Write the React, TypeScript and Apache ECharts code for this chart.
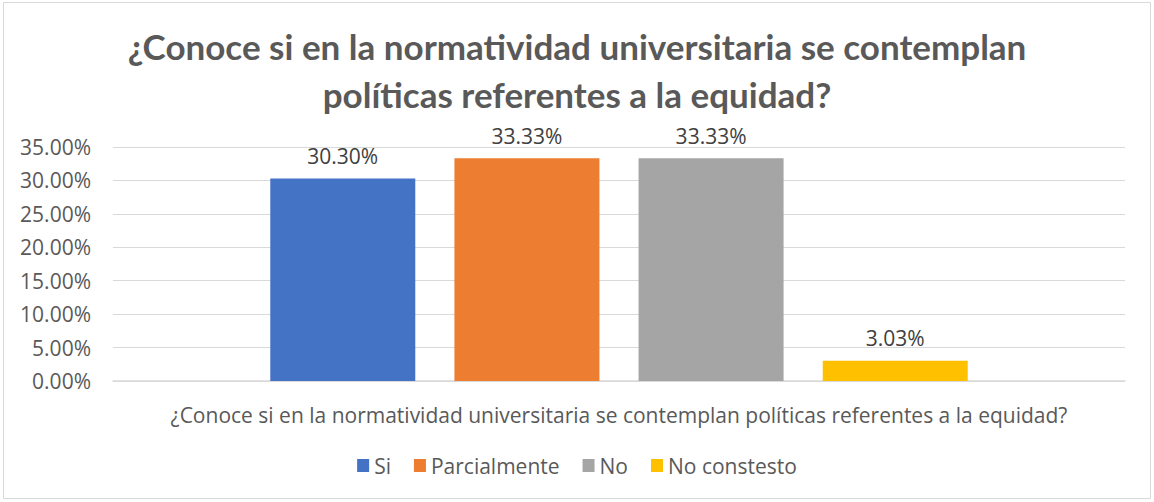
import React, { useEffect, useRef } from "react";
import * as echarts from "echarts";

const question = "¿Conoce si en la normatividad universitaria se contemplan políticas referentes a la equidad?";
const categories = [question];
const seriesNames = ["Si", "Parcialmente", "No", "No constesto"];
const seriesValues = [0.303, 0.3333, 0.3333, 0.0303];
const seriesColors = ["#4472C4", "#ED7D31", "#A5A5A5", "#FFC000"];
const yTicks = { min: 0, max: 0.35, interval: 0.05 };

const FONT = "'Open Sans', sans-serif";

export default function App() {
  const ref = useRef<HTMLDivElement>(null);
  useEffect(() => {
    if (!ref.current) return;
    const chart = echarts.init(ref.current, null, { renderer: "svg" });
    chart.setOption({
      animation: false,
      backgroundColor: "#ffffff",
      textStyle: { fontFamily: FONT },
      title: {
        text: "¿Conoce si en la normatividad universitaria se contemplan\npolíticas referentes a la equidad?",
        left: "center",
        top: 17,
        textStyle: {
          fontFamily: "Lato, 'Open Sans', sans-serif",
          fontSize: 35,
          fontWeight: "bold",
          color: "#595959",
          lineHeight: 48,
        },
      },
      graphic: [
        {
          type: "rect",
          shape: { x: 3.5, y: 2.5, width: 1147, height: 496 },
          style: { fill: "none", stroke: "#D9D9D9", lineWidth: 1 },
          silent: true,
        },
      ],
      legend: {
        data: seriesNames,
        bottom: 21,
        left: "center",
        icon: "rect",
        itemWidth: 12,
        itemHeight: 13,
        itemGap: 23,
        textStyle: { fontFamily: FONT, fontSize: 21, color: "#595959", padding: [0, 0, 0, 0] },
      },
      grid: { left: 113, right: 29, top: 147, bottom: 121, containLabel: false },
      xAxis: {
        type: "category",
        data: categories,
        axisTick: { show: false },
        axisLine: { lineStyle: { color: "#D9D9D9", width: 1.5 } },
        axisLabel: { margin: 23, fontFamily: FONT, fontSize: 21, color: "#595959" },
      },
      yAxis: {
        type: "value",
        min: yTicks.min,
        max: yTicks.max,
        interval: yTicks.interval,
        axisLine: { show: false },
        axisTick: { show: false },
        splitLine: { lineStyle: { color: "#D9D9D9", width: 1 } },
        axisLabel: {
          margin: 22,
          fontFamily: FONT,
          fontSize: 21,
          color: "#595959",
          formatter: (v: number) => (v * 100).toFixed(2) + "%",
        },
      },
      series: seriesNames.map((name, i) => ({
        name,
        type: "bar",
        data: [seriesValues[i]],
        barWidth: 145,
        barGap: "27%",
        itemStyle: { color: seriesColors[i] },
        label: {
          show: true,
          position: "top",
          distance: 12,
          fontFamily: FONT,
          fontSize: 21,
          color: "#404040",
          formatter: (p: any) => (p.value * 100).toFixed(2) + "%",
        },
      })),
    });
    return () => chart.dispose();
  }, []);
  return (
    <div
      ref={ref}
      style={{ position: "absolute", left: 0, top: 0, width: 1154, height: 502 }}
    />
  );
}
